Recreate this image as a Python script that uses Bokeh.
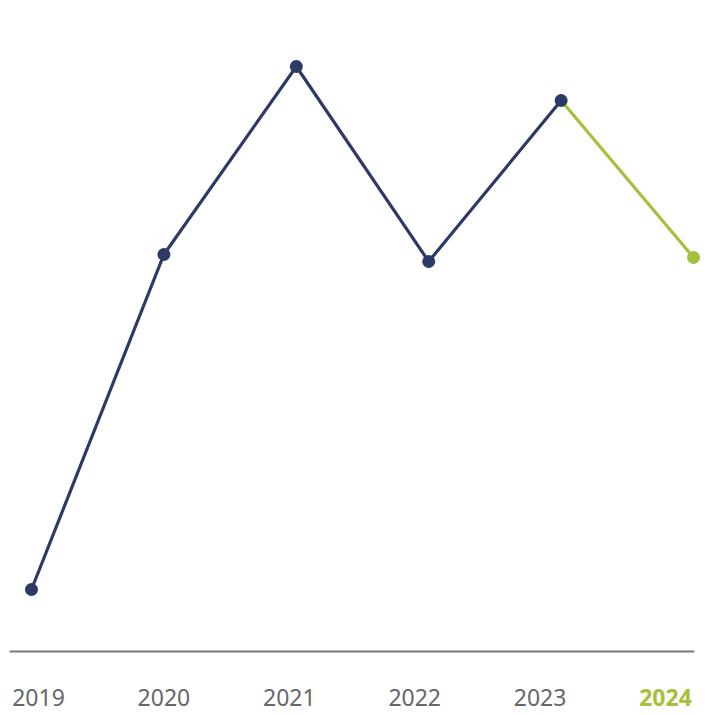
from bokeh.plotting import figure
from bokeh.models import Range1d, ColumnDataSource
from bokeh.core.properties import value
from bokeh.embed import file_html
from bokeh.resources import INLINE

years = ["2019", "2020", "2021", "2022", "2023", "2024"]
values = [6.2, 39.7, 58.5, 39.0, 55.1, 39.4]

NAVY = "#2d3a66"
GREEN = "#a3c13a"
GRAY_TXT = "#66676b"

xi = list(range(len(years)))

p = figure(width=708, height=715, output_backend="svg", toolbar_location=None,
           x_range=Range1d(-0.234, 5.113), y_range=Range1d(-6.4, 65.1),
           min_border=0, min_border_left=0, min_border_right=0,
           min_border_top=0, min_border_bottom=0)
p.axis.visible = False
p.grid.visible = False
p.outline_line_color = None
p.background_fill_color = "white"
p.border_fill_color = "white"

# separate range for the category labels
p.extra_x_ranges = {"labels": Range1d(-0.303, 5.343)}

# baseline
p.segment(x0=[-0.231], y0=[0], x1=[5.23], y1=[0], line_color="#77787b",
          line_width=2, x_range_name="labels")

# lines
p.line(x=xi[4:], y=values[4:], line_color=GREEN, line_width=3.2)
p.line(x=xi[:5], y=values[:5], line_color=NAVY, line_width=3.2)

# markers
p.scatter(x=xi[:5], y=values[:5], size=13, fill_color=NAVY, line_color=None)
p.scatter(x=xi[5:], y=values[5:], size=13, fill_color=GREEN, line_color=None)

# labels
LABEL_Y = -4.6
src = ColumnDataSource(dict(x=xi[:5], y=[LABEL_Y] * 5, t=years[:5]))
p.text(x="x", y="y", text="t", source=src, x_range_name="labels",
       text_font=value("Noto Sans"), text_font_size="23px",
       text_color=GRAY_TXT, text_align="center", text_baseline="middle")
src2 = ColumnDataSource(dict(x=xi[5:], y=[LABEL_Y], t=years[5:]))
p.text(x="x", y="y", text="t", source=src2, x_range_name="labels",
       text_font=value("Noto Sans"), text_font_size="23px", text_font_style="bold",
       text_color=GREEN, text_align="center", text_baseline="middle")

open("out.html", "w").write(file_html(p, INLINE))
